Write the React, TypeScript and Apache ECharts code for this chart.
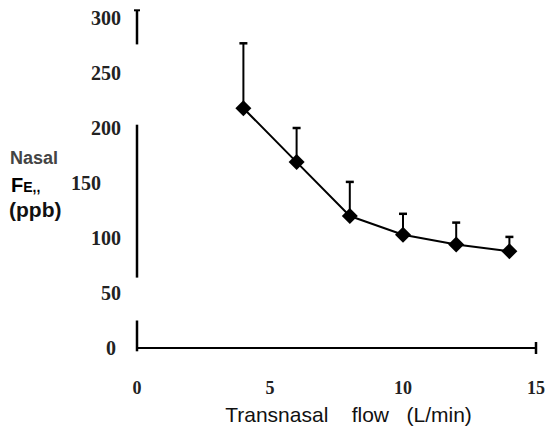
import React, { useEffect, useRef } from "react";
import * as echarts from "echarts";

const flow = [4, 6, 8, 10, 12, 14];
const meanFE = [218, 169, 120, 103, 94, 88];
const upperFE = [277, 200, 151, 122, 114, 101];
const yTicks = [0, 50, 100, 150, 200, 250, 300];
const xTicks = [0, 5, 10, 15];
// visible pieces of the (broken) scanned y-axis line, in data units
const yAxisSegments = [
  [307, 276],
  [203, 64],
  [25, -3],
];

export default function App() {
  const ref = useRef<HTMLDivElement>(null);
  useEffect(() => {
    const chart = echarts.init(ref.current!, null, { renderer: "svg" });
    const option: any = {
      animation: false,
      backgroundColor: "#fff",
      grid: { left: 129, right: 4, top: 10, bottom: 82, containLabel: false },
      xAxis: {
        type: "value",
        min: xTicks[0],
        max: xTicks[xTicks.length - 1],
        interval: 5,
        splitLine: { show: false },
        axisTick: { show: false },
        axisLine: { show: true, onZero: false, lineStyle: { color: "#000", width: 2 } },
        axisLabel: {
          margin: 31,
          color: "#222",
          fontFamily: "Liberation Serif",
          fontWeight: "bold",
          fontSize: 18,
        },
        name: "Transnasal\u00a0\u00a0\u00a0\u00a0flow\u00a0\u00a0\u00a0(L/min)",
        nameLocation: "middle",
        nameGap: 56,
        nameTextStyle: {
          color: "#111",
          fontFamily: "Liberation Sans",
          fontSize: 21,
          padding: [0, 0, 0, 24],
        },
      },
      yAxis: {
        type: "value",
        min: yTicks[0],
        max: yTicks[yTicks.length - 1],
        interval: 50,
        splitLine: { show: false },
        axisTick: { show: false },
        axisLine: { show: false },
        axisLabel: {
          margin: 16,
          color: "#222",
          fontFamily: "Liberation Serif",
          fontWeight: "bold",
          fontSize: 20,
          formatter: (v: number) =>
            v === 150 ? v + "\u00a0\u00a0\u00a0\u00a0" : v === 0 ? v + "\u00a0" : String(v),
        },
      },
      graphic: [
        {
          type: "text",
          left: 2,
          top: 141,
          style: { text: "Nasal", fill: "#444", font: "bold 18px 'Liberation Sans'" },
        },
        {
          type: "text",
          left: 3,
          top: 167,
          style: {
            text: "{f|F}{e|E,,}",
            rich: {
              f: { fill: "#000", font: "bold 20px 'Liberation Sans'" },
              e: { fill: "#000", font: "bold 14px 'Liberation Sans'", padding: [3, 0, 0, 0] },
            },
          },
        },
        {
          type: "text",
          left: 1,
          top: 191,
          style: { text: "(ppb)", fill: "#111", font: "bold 21px 'Liberation Sans'" },
        },
      ],
      series: [
        {
          type: "custom",
          silent: true,
          data: yAxisSegments,
          renderItem: (params: any, api: any) => {
            const a = api.coord([0, api.value(0)]);
            const b = api.coord([0, api.value(1)]);
            const children: any[] = [
              {
                type: "line",
                shape: { x1: a[0], y1: a[1], x2: b[0], y2: b[1] },
                style: { stroke: "#000", lineWidth: 2.5 },
              },
            ];
            if (params.dataIndex === 0) {
              children.push({
                type: "line",
                shape: { x1: a[0] - 3, y1: a[1], x2: a[0] + 3, y2: a[1] },
                style: { stroke: "#000", lineWidth: 2 },
              });
            }
            return { type: "group", children };
          },
          z: 5,
        },
        {
          type: "custom",
          silent: true,
          data: [[15, 0]],
          renderItem: (params: any, api: any) => {
            const p = api.coord([api.value(0), api.value(1)]);
            return {
              type: "line",
              shape: { x1: p[0], y1: p[1] - 6, x2: p[0], y2: p[1] + 6 },
              style: { stroke: "#000", lineWidth: 2.5 },
            };
          },
        },
        {
          type: "custom",
          silent: true,
          data: flow.map((x, i) => [x, meanFE[i], upperFE[i]]),
          renderItem: (params: any, api: any) => {
            const p0 = api.coord([api.value(0), api.value(1)]);
            const p1 = api.coord([api.value(0), api.value(2)]);
            return {
              type: "group",
              children: [
                {
                  type: "line",
                  shape: { x1: p0[0], y1: p0[1], x2: p1[0], y2: p1[1] },
                  style: { stroke: "#000", lineWidth: 2 },
                },
                {
                  type: "line",
                  shape: { x1: p1[0] - 4, y1: p1[1], x2: p1[0] + 4, y2: p1[1] },
                  style: { stroke: "#000", lineWidth: 2.5 },
                },
              ],
            };
          },
          z: 3,
        },
        {
          type: "line",
          data: flow.map((x, i) => [x, meanFE[i]]),
          symbol: "diamond",
          symbolSize: 16,
          itemStyle: { color: "#000" },
          lineStyle: { color: "#000", width: 2 },
          z: 4,
        },
      ],
    };
    chart.setOption(option);
    return () => chart.dispose();
  }, []);
  return <div ref={ref} style={{ width: 540, height: 422 }} />;
}
